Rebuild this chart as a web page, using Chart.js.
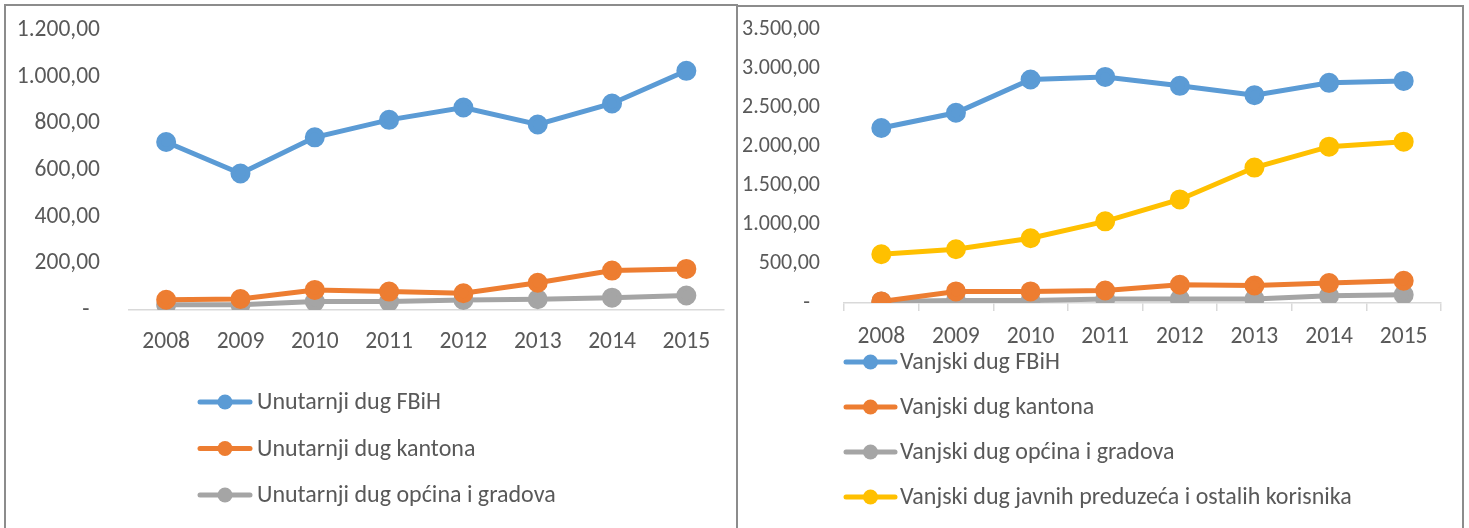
<!DOCTYPE html>
<html>
<head>
<meta charset="utf-8">
<script src="https://cdn.jsdelivr.net/npm/chart.js@4.4.1/dist/chart.umd.min.js"></script>
<style>
  html, body { margin: 0; padding: 0; background: #ffffff; overflow: hidden; }
  body { width: 1469px; height: 528px; position: relative; }
  .panel { position: absolute; border: 2px solid #8c8c8c; background: #fff; box-sizing: border-box; }
  #p1 { left: 4px; top: 4px; width: 734px; height: 560px; }
  #p2 { left: 736px; top: 5px; width: 728px; height: 560px; }
  canvas { position: absolute; left: 0; top: 0; }
</style>
</head>
<body>
<div class="panel" id="p1"><canvas id="c1" width="730" height="556"></canvas></div>
<div class="panel" id="p2"><canvas id="c2" width="724" height="555"></canvas></div>
<script>
// ---- data ----
const years = ['2008', '2009', '2010', '2011', '2012', '2013', '2014', '2015'];

const unutarnjiFBiH    = [720, 585, 740, 815, 868, 795, 885, 1025];
const unutarnjiKantona = [44, 47, 86, 79, 72, 117, 169, 176];
const unutarnjiOpcina  = [22, 22, 36, 36, 43, 46, 53, 62];

const vanjskiFBiH      = [2235, 2430, 2855, 2888, 2774, 2655, 2812, 2837];
const vanjskiKantona   = [20, 148, 148, 160, 233, 224, 254, 284];
const vanjskiOpcina    = [20, 33, 33, 51, 51, 51, 93, 106];
const vanjskiJavnih    = [623, 687, 827, 1043, 1323, 1730, 1997, 2061];

const leftLabels  = ['Unutarnji dug FBiH', 'Unutarnji dug kantona', 'Unutarnji dug općina i gradova'];
const rightLabels = ['Vanjski dug FBiH', 'Vanjski dug kantona', 'Vanjski dug općina i gradova',
                     'Vanjski dug javnih preduzeća i ostalih korisnika'];

const leftTicks  = [0, 200, 400, 600, 800, 1000, 1200];
const rightTicks = [0, 500, 1000, 1500, 2000, 2500, 3000, 3500];

// ---- styling ----
const BLUE = '#5B9BD5', ORANGE = '#ED7D31', GRAY = '#A5A5A5', YELLOW = '#FFC000';
const TEXT = '#595959';
const FONT = "Carlito, Calibri, Lato, sans-serif";

function fmt(v) {
  const neg = v < 0; v = Math.abs(v);
  const intPart = Math.floor(v).toString().replace(/\B(?=(\d{3})+(?!\d))/g, '.');
  const dec = Math.round((v - Math.floor(v)) * 100).toString().padStart(2, '0');
  return (neg ? '-' : '') + intPart + ',' + dec;
}

function ds(label, data, color) {
  return {
    label, data,
    borderColor: color, backgroundColor: color,
    pointBackgroundColor: color, pointBorderColor: color,
    borderWidth: 5, pointRadius: 7.5, pointHoverRadius: 7.5,
    tension: 0, fill: false
  };
}

const lineLegend = {
  id: 'lineLegend',
  afterDraw(chart, args, o) {
    const ctx = chart.ctx;
    ctx.save();
    ctx.font = o.fontSize + 'px ' + FONT;
    ctx.textBaseline = 'middle';
    ctx.textAlign = 'left';
    chart.data.datasets.forEach((d, i) => {
      const y = o.y0 + i * o.dy;
      ctx.strokeStyle = d.borderColor;
      ctx.lineWidth = 5;
      ctx.lineCap = 'round';
      ctx.beginPath();
      ctx.moveTo(o.x, y);
      ctx.lineTo(o.x + o.len, y);
      ctx.stroke();
      ctx.fillStyle = d.borderColor;
      ctx.beginPath();
      ctx.arc(o.x + o.len / 2, y, 7.5, 0, Math.PI * 2);
      ctx.fill();
      ctx.fillStyle = TEXT;
      ctx.fillText(d.label, o.x + o.len + o.gap, y + 1);
    });
    ctx.restore();
  }
};

function makeChart(id, datasets, ticks, cfg) {
  const max = ticks[ticks.length - 1];
  const step = ticks[1] - ticks[0];
  return new Chart(document.getElementById(id), {
    type: 'line',
    data: { labels: years, datasets },
    plugins: [lineLegend],
    options: {
      responsive: false,
      animation: false,
      events: [],
      layout: { padding: { left: 0, right: cfg.padRight, top: cfg.padTop, bottom: cfg.padBottom } },
      plugins: {
        legend: { display: false },
        tooltip: { enabled: false },
        lineLegend: cfg.legend
      },
      scales: {
        x: {
          offset: true,
          grid: {
            display: true, offset: true, drawOnChartArea: false,
            drawTicks: cfg.xTicks, tickLength: 8, color: '#D9D9D9', lineWidth: 1.5
          },
          border: { display: true, color: '#D9D9D9', width: 1.5 },
          ticks: { color: TEXT, font: { family: FONT, size: cfg.xFont }, padding: cfg.xPad, maxRotation: 0, autoSkip: false },
          afterFit(s) { s.height = cfg.xHeight; }
        },
        y: {
          min: 0, max: max,
          grid: { display: false, drawTicks: true, tickLength: cfg.yTick },
          border: { display: false },
          ticks: {
            stepSize: step, color: TEXT, font: { family: FONT, size: cfg.yFont }, padding: 2,
            callback: (v) => v === 0 ? cfg.zeroLabel : fmt(v)
          },
          afterFit(s) { s.width = cfg.yWidth; }
        }
      }
    }
  });
}

makeChart('c1', [
  ds(leftLabels[0], unutarnjiFBiH, BLUE),
  ds(leftLabels[1], unutarnjiKantona, ORANGE),
  ds(leftLabels[2], unutarnjiOpcina, GRAY)
], leftTicks, {
  padTop: 24, padRight: 11, padBottom: 556 - 304 - 48, xHeight: 48,
  yWidth: 123, yTick: 27, xPad: 18, xTicks: false, zeroLabel: '-  ',
  xFont: 23.5, yFont: 23.5,
  legend: { x: 194, len: 50, gap: 7, y0: 396, dy: 46.5, fontSize: 24 }
});

makeChart('c2', [
  ds(rightLabels[0], vanjskiFBiH, BLUE),
  ds(rightLabels[1], vanjskiKantona, ORANGE),
  ds(rightLabels[2], vanjskiOpcina, GRAY),
  ds(rightLabels[3], vanjskiJavnih, YELLOW)
], rightTicks, {
  padTop: 22, padRight: 21, padBottom: 555 - 296 - 44, xHeight: 44,
  yWidth: 106, yTick: 22, xPad: 12, xTicks: true, zeroLabel: '-  ',
  xFont: 23.5, yFont: 22,
  legend: { x: 108, len: 49, gap: 5, y0: 355, dy: 45, fontSize: 24 }
});
</script>
</body>
</html>
